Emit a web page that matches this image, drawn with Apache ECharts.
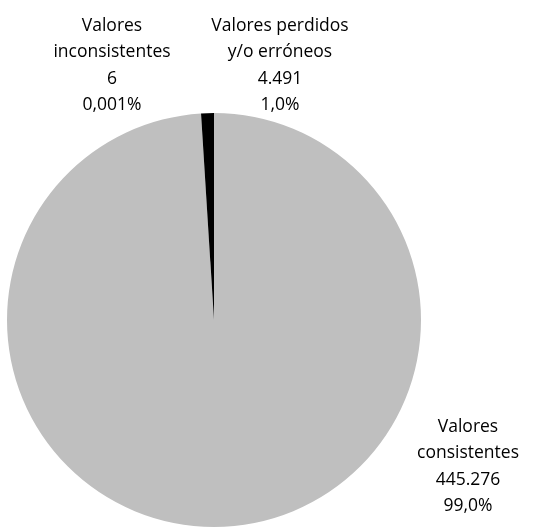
<!DOCTYPE html>
<html>
<head>
<meta charset="utf-8">
<script src="https://cdn.jsdelivr.net/npm/echarts@6/dist/echarts.min.js"></script>
<style>
html,body{margin:0;padding:0;background:#fff;}
#chart{width:536px;height:528px;}
</style>
</head>
<body>
<div id="chart"></div>
<script>
// Data
const categories = ["Valores\nconsistentes", "Valores\ninconsistentes", "Valores perdidos\ny/o erróneos"];
const values = [445276, 6, 4491];
const percentDecimals = [1, 3, 1];
const colors = ["#BFBFBF", "#7F7F7F", "#000000"];
// label anchor (centre of text block) per slice
const labelPos = [[468, 466.5], [112, 65.5], [280, 65.5]];

const total = values.reduce((a, b) => a + b, 0);
function fmtInt(v) {
  return String(v).replace(/\B(?=(\d{3})+(?!\d))/g, ".");
}
function fmtPct(v, d) {
  return (v / total * 100).toFixed(d).replace(".", ",") + "%";
}

const chart = echarts.init(document.getElementById('chart'), null, {renderer: 'canvas'});
chart.setOption({
  animation: false,
  series: [{
    type: 'pie',
    center: [214, 320],
    radius: 207,
    startAngle: 90,
    clockwise: true,
    minAngle: 0,
    avoidLabelOverlap: false,
    emphasis: {disabled: true},
    itemStyle: {borderWidth: 0},
    label: {
      show: true,
      position: 'outside',
      fontFamily: 'Open Sans',
      fontSize: 17.5,
      lineHeight: 26.5,
      color: '#000',
      align: 'center',
      formatter: function (p) {
        const i = p.dataIndex;
        return p.name + "\n" + fmtInt(values[i]) + "\n" + fmtPct(values[i], percentDecimals[i]);
      }
    },
    labelLine: {show: false},
    labelLayout: function (params) {
      const pos = labelPos[params.dataIndex];
      return {x: pos[0], y: pos[1], align: 'center', verticalAlign: 'middle', hideOverlap: false, moveOverlap: null};
    },
    data: categories.map((c, i) => ({name: c, value: values[i], itemStyle: {color: colors[i]}}))
  }]
});
</script>
</body>
</html>
